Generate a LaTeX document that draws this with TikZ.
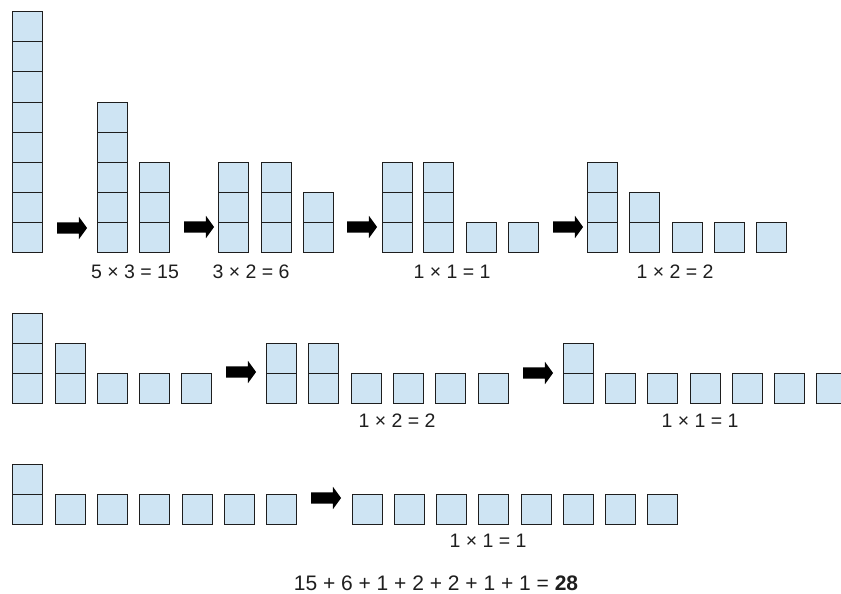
\documentclass[tikz,border=0pt]{standalone}
\usepackage{fontspec}
\setmainfont{Liberation Sans}
\usetikzlibrary{shapes.arrows}
\definecolor{cellblue}{RGB}{206,228,243}
\definecolor{inkgray}{RGB}{30,30,30}

\begin{document}
\begin{tikzpicture}[x=1pt,y=-1pt,
  cell/.style={draw=inkgray,fill=cellblue,line width=1pt,minimum width=30pt,minimum height=30pt,inner sep=0pt,outer sep=0pt},
  fatarrow/.style={single arrow,fill=black,draw=none,minimum height=30pt,minimum width=22pt,single arrow head extend=5.5pt,single arrow tip angle=108,inner xsep=0pt,inner ysep=5.5pt},
  lbl/.style={text=inkgray,font=\fontsize{19.5}{23}\selectfont,inner sep=0pt}]
  \useasboundingbox (0,0) rectangle (841,594);
  \clip (0,0) rectangle (841,594);
  \foreach \x/\h in {12/8,97/5,139/3,218/3,261/3,303/2,382/3,423/3,466/1,508/1,587/3,629/2,672/1,714/1,756/1}
    \foreach \k in {1,...,\h}
      \node[cell] (a\x-\k) at ({\x+15},{237-30*(\k-1)}) {};
  \foreach \x/\h in {12/3,55/2,97/1,139/1,181/1,266/2,308/2,351/1,393/1,435/1,478/1,563/2,605/1,647/1,690/1,732/1,774/1,816/1}
    \foreach \k in {1,...,\h}
      \node[cell] (b\x-\k) at ({\x+15},{388-30*(\k-1)}) {};
  \foreach \x/\h in {12/2,55/1,97/1,139/1,182/1,224/1,266/1,352/1,394/1,436/1,478/1,521/1,563/1,605/1,647/1}
    \foreach \k in {1,...,\h}
      \node[cell] (c\x-\k) at ({\x+15},{509-30*(\k-1)}) {};
  \foreach \n/\x/\y in {1/70/228,2/197/227,3/360/227,4/566/227,5/239/372,6/536/373,7/324/498}
    \node[fatarrow] (arr\n) at (\x,\y) {};
  \node[lbl] (sum1) at (135,272) {5 × 3 = 15};
  \node[lbl] (sum2) at (251,272) {3 × 2 = 6};
  \node[lbl] (sum3) at (452,272) {1 × 1 = 1};
  \node[lbl] (sum4) at (675,272) {1 × 2 = 2};
  \node[lbl] (sum5) at (397,421) {1 × 2 = 2};
  \node[lbl] (sum6) at (700,421) {1 × 1 = 1};
  \node[lbl] (sum7) at (488,541) {1 × 1 = 1};
  \node[lbl,font=\fontsize{21}{25}\selectfont] (total) at (436,583) {15 + 6 + 1 + 2 + 2 + 1 + 1 = \textbf{28}};
\end{tikzpicture}
\end{document}
